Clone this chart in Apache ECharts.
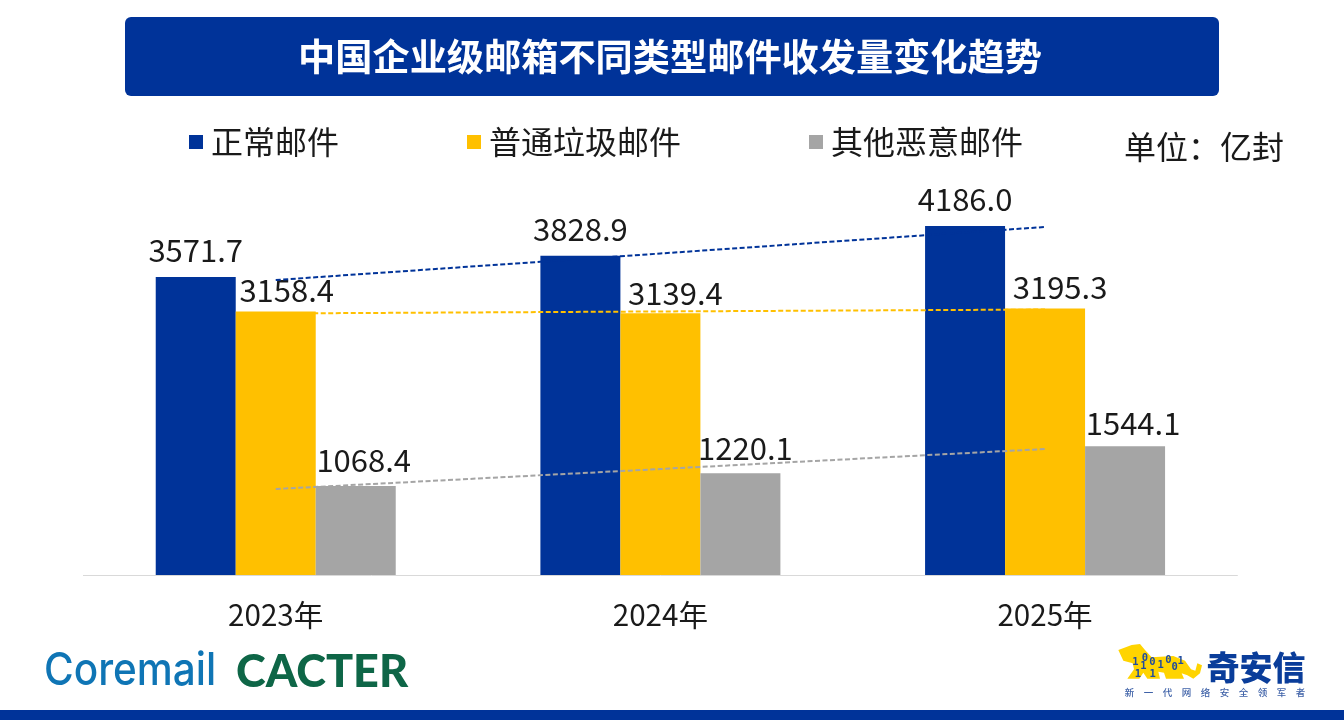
<!DOCTYPE html>
<html><head><meta charset="utf-8">
<style>html,body{margin:0;padding:0;background:#fff}#c{width:1344px;height:720px}</style>
<script src="https://cdn.jsdelivr.net/npm/echarts@6/dist/echarts.min.js"></script>
</head><body><div id="c"></div>
<script>
const categories = ['2023年','2024年','2025年'];
const normalMail = [3571.7,3828.9,4186.0];
const spamMail = [3158.4,3139.4,3195.3];
const otherMail = [1068.4,1220.1,1544.1];
const normalTrend = [3537,3855,4173];
const spamTrend = [3136,3160,3183];
const otherTrend = [1031,1271,1511];
const seriesNames = ['正常邮件','普通垃圾邮件','其他恶意邮件'];

const NAVY='#003399', GOLD='#FFC000', GREY='#A5A5A5', INK='#1a1a1a';
const CJK='"Noto Sans Mono CJK SC","Noto Sans CJK SC",sans-serif';
const numFont='"Noto Sans CJK SC",sans-serif';

const offsets = {
  normal:[[0,-4],[0,-4],[0,-4]],
  spam:[[11,1],[15,3],[15,1]],
  other:[[8,-3],[5,-3],[8,-1]]
};
function barSeries(name,values,color,off){
  return {name,type:'bar',barWidth:80,barGap:0,z:2,
    itemStyle:{color},
    data:values.map((v,i)=>({value:v,label:{offset:off[i]}})),
    label:{show:true,position:'top',distance:7,color:INK,fontFamily:numFont,fontSize:31,
      formatter:p=>p.value.toFixed(1)}};
}
function trend(values,color,nm){
  return {name:nm,type:'line',data:values,showSymbol:false,symbol:'none',z:5,silent:true,
    lineStyle:{color,width:2,type:[5,2.5]}};
}
function tp(zx,zy){return [1090+zx/3,630+zy/3];}
const tiger=[[85,60],[125,45],[150,42],[165,60],[185,82],[250,78],[285,92],[303,118],[316,122],[322,100],[336,106],[330,130],[310,146],[292,136],[275,130],[282,146],[228,146],[222,128],[205,125],[210,146],[172,146],[160,128],[148,146],[112,146],[132,118],[128,100],[100,92]].map(p=>tp(p[0],p[1]));
const bits=[['1',136,98],['0',165,85],['1',160,110],['1',144,132],['0',187,98],['1',188,133],['1',212,105],['0',235,92],['0',254,112],['1',272,94]];

const chart=echarts.init(document.getElementById('c'),null,{renderer:'canvas'});
chart.setOption({
  animation:false,
  backgroundColor:'#fff',
  grid:{left:83.4,right:106.6,top:158,bottom:145,containLabel:false},
  legend:{left:189,top:126,padding:0,itemWidth:14,itemHeight:14,itemGap:128,icon:'rect',
    data:seriesNames,
    textStyle:{fontFamily:CJK,fontSize:32,color:INK,padding:[0,0,0,3]}},
  xAxis:{type:'category',data:categories,
    axisLine:{lineStyle:{color:'#D9D9D9',width:1}},axisTick:{show:false},
    axisLabel:{margin:25,fontFamily:numFont,fontSize:29.6,color:INK}},
  yAxis:{type:'value',min:0,max:5000,show:false,splitLine:{show:false}},
  series:[
    barSeries(seriesNames[0],normalMail,NAVY,offsets.normal),
    barSeries(seriesNames[1],spamMail,GOLD,offsets.spam),
    barSeries(seriesNames[2],otherMail,GREY,offsets.other),
    trend(normalTrend,NAVY,'趋势1'),
    trend(spamTrend,GOLD,'趋势2'),
    trend(otherTrend,GREY,'趋势3')
  ],
  graphic:[
    {type:'rect',shape:{x:125,y:17,width:1094,height:79,r:6},style:{fill:'#003399'},z:1},
    {type:'text',x:670,y:57,style:{text:'中国企业级邮箱不同类型邮件收发量变化趋势',fill:'#fff',font:'bold 37.2px "Noto Sans CJK SC"',textAlign:'center',textVerticalAlign:'middle'},z:2},
    {type:'text',x:1124,y:147,style:{text:'单位：亿封',fill:INK,font:'32px '+CJK,textAlign:'left',textVerticalAlign:'middle'},z:2},
    {type:'rect',shape:{x:0,y:710,width:1344,height:10},style:{fill:'#003399'},z:1},
    {type:'text',x:44,y:671,scaleX:0.9,style:{text:'Coremail',fill:'#0F75B5',font:'500 45px Inter',textAlign:'left',textVerticalAlign:'middle'},z:2},
    {type:'text',x:236,y:672,style:{text:'CACTER',fill:'#0E6647',font:'900 45px Lato',textAlign:'left',textVerticalAlign:'middle'},z:2},
    {type:'polygon',shape:{points:tiger},style:{fill:'#FFD400'},z:2},
    ...bits.map(b=>{const q=tp(b[1],b[2]);return {type:'text',x:q[0],y:q[1],style:{text:b[0],fill:'#1F4BA0',font:'bold 10.5px "DejaVu Sans Mono"',textAlign:'center',textVerticalAlign:'middle'},z:3};}),
    {type:'text',x:1256,y:667,style:{text:'奇安信',fill:'#0A3D9A',font:'900 33px "Noto Sans CJK SC"',textAlign:'center',textVerticalAlign:'middle'},z:2},
    {type:'text',x:1215,y:692,style:{text:'新\u2003一\u2003代\u2003网\u2003络\u2003安\u2003全\u2003领\u2003军\u2003者',fill:'#3F62A8',font:'500 9.5px "Noto Sans CJK SC"',textAlign:'center',textVerticalAlign:'middle'},z:2}
  ]
});
</script></body></html>
